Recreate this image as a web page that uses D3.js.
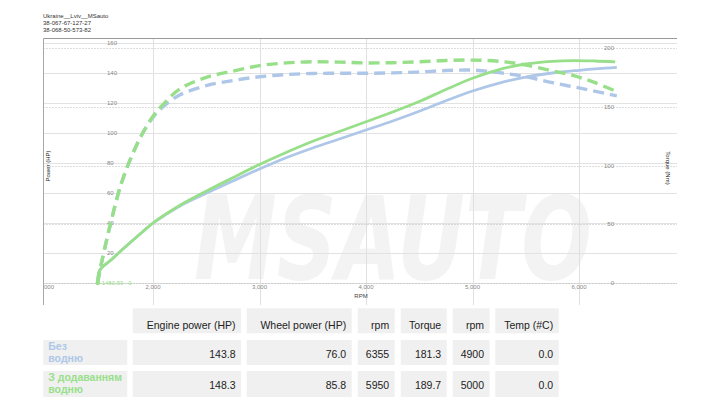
<!DOCTYPE html>
<html><head><meta charset="utf-8">
<script src="https://cdn.jsdelivr.net/npm/d3@7"></script>
<style>body{margin:0;background:#fff;} svg{display:block;font-family:"Liberation Sans",Arial,sans-serif;}</style>
</head><body>
<svg id="c" width="720" height="405"></svg>
<script>
// ---- data ----
const headerLines = ["Ukraine__Lviv__MSauto", "38-067-67-127-27", "38-068-50-573-82"];
const xTicks = [1000, 2000, 3000, 4000, 5000, 6000];
const hpTicks = [20, 40, 60, 80, 100, 120, 140, 160];
const tqTicks = [0, 50, 100, 150, 200];

const rpmBlue  = [1480.59,1500,1600,1700,1800,1900,2000,2100,2250,2500,2750,3000,3250,3500,3750,4000,4250,4500,4750,5000,5250,5500,5750,6000,6250,6355];
const hpBlue   = [0,8.5,15,21.5,27.8,34,40,44.7,51.2,59.8,68,76,83.5,90,96,102,108,114.5,121.5,128,133.3,137.3,140,141.8,143.3,143.8];
const tqBlue   = [0,10,50,84,108,127,141,150.5,160,168,172.3,175.5,177.4,178.3,178.5,178.5,178.8,179.6,180.8,181.2,179,175.5,170.5,166,161.3,159.3];

const rpmGreen = [1480.59,1500,1600,1700,1800,1900,2000,2100,2250,2500,2750,3000,3250,3500,3750,4000,4250,4500,4750,5000,5250,5500,5750,5950,6150,6340];
const hpGreen  = [0,8.5,15,21.5,27.8,34,40,45,51.7,61.2,70.2,79,87,94.5,101,107.5,114,121,129,136.5,142.3,146,147.8,148.3,148,147.4];
const tqGreen  = [0,10,50,84,108,127,142,152.5,165,175,180.3,185,187.3,188.3,188,187.3,187.5,188.3,189.4,189.7,188.7,185.5,180.5,176.5,170.5,163.4];

const startLabel = "1480.59 : 0";
const tableHeaders = ["", "Engine power (HP)", "Wheel power (HP)", "rpm", "Torque", "rpm", "Temp (#C)"];
const rowLabels = [["Без", "водню"], ["З додаванням", "водню"]];
const rowValues = [["143.8", "76.0", "6355", "181.3", "4900", "0.0"],
                   ["148.3", "85.8", "5950", "189.7", "5000", "0.0"]];
const seriesColors = ["#aec7e8", "#98df8a"];

// ---- layout ----
const svg = d3.select("#c");
const L = 43.5, R = 677, T = 38.5, B = 283, GB = 305;
const x = d3.scaleLinear().domain([1000, 6000]).range([46.5, 579]);
const yL = d3.scaleLinear().domain([0, 160]).range([B, 43]);
const yR = d3.scaleLinear().domain([0, 200]).range([B, 48]);

// header
svg.append("g").selectAll("text").data(headerLines).join("text")
  .attr("x", 43).attr("y", (d, i) => 17.5 + i * 7)
  .attr("font-size", 6).attr("fill", "#333").text(d => d);

// watermark
svg.append("text").attr("x", 194).attr("y", 279)
  .attr("font-family", "DejaVu Sans").attr("font-size", 116).attr("font-weight", "bold").attr("font-style", "italic")
  .attr("textLength", 398).attr("lengthAdjust", "spacingAndGlyphs")
  .attr("fill", "#f3f3f3").text("MSAUTO");

// grid
const g = svg.append("g");
g.selectAll(".hg").data([0, ...hpTicks]).join("line")
  .attr("x1", L).attr("x2", R).attr("y1", d => Math.round(yL(d)) + 0.5).attr("y2", d => Math.round(yL(d)) + 0.5)
  .attr("stroke", "#e2e2e2").attr("stroke-width", 1);
g.selectAll(".dg").data(tqTicks).join("line")
  .attr("x1", L).attr("x2", R).attr("y1", d => Math.round(yR(d)) + 0.5).attr("y2", d => Math.round(yR(d)) + 0.5)
  .attr("stroke", "#bbb").attr("stroke-width", 1).attr("stroke-dasharray", "1,2");
g.selectAll(".vg").data(xTicks.slice(1)).join("line")
  .attr("x1", d => Math.round(x(d)) + 0.5).attr("x2", d => Math.round(x(d)) + 0.5)
  .attr("y1", T).attr("y2", GB).attr("stroke", "#e0e0e0");
g.append("line").attr("x1", L).attr("x2", L).attr("y1", T).attr("y2", GB).attr("stroke", "#a8a8a8");
g.append("line").attr("x1", L).attr("x2", R).attr("y1", T).attr("y2", T).attr("stroke", "#999");

// tick labels
svg.append("defs").append("clipPath").attr("id", "clipX").append("rect")
  .attr("x", L).attr("y", 0).attr("width", 700).attr("height", 405);
svg.append("g").attr("clip-path", "url(#clipX)").selectAll("text").data(xTicks).join("text")
  .attr("x", d => x(d)).attr("y", 289).attr("text-anchor", "middle")
  .attr("font-size", 6).attr("fill", "#888").text(d => d3.format(",")(d));
svg.append("g").selectAll("text").data(hpTicks).join("text")
  .attr("x", 107).attr("y", d => yL(d) + 2).attr("font-size", 6).attr("fill", "#888").text(d => d);
svg.append("g").selectAll("text").data(tqTicks).join("text")
  .attr("x", 614).attr("y", d => yR(d) + 2).attr("text-anchor", "end")
  .attr("font-size", 6).attr("fill", "#888").text(d => d);

// axis titles
svg.append("text").attr("transform", "translate(50,166) rotate(-90)").attr("text-anchor", "middle")
  .attr("font-size", 6).attr("fill", "#222").text("Power (HP)");
svg.append("text").attr("transform", "translate(666,168) rotate(90)").attr("text-anchor", "middle")
  .attr("font-size", 6).attr("fill", "#222").text("Torque (Nm)");
svg.append("text").attr("x", 361).attr("y", 298).attr("text-anchor", "middle")
  .attr("font-size", 6).attr("fill", "#444").text("RPM");

// lines
const series = [
  {rpm: rpmBlue, hp: hpBlue, tq: tqBlue, color: seriesColors[0]},
  {rpm: rpmGreen, hp: hpGreen, tq: tqGreen, color: seriesColors[1]}
];
const line = d3.line().curve(d3.curveCatmullRom.alpha(0.5));
series.forEach(s => {
  const ptsHP = s.rpm.map((r, i) => [x(r), yL(s.hp[i])]);
  const ptsTQ = s.rpm.map((r, i) => [x(r), yR(s.tq[i])]);
  svg.append("path").attr("d", line(ptsTQ)).attr("fill", "none")
    .attr("stroke", s.color).attr("stroke-width", 3.4).attr("stroke-dasharray", "11,6");
  svg.append("path").attr("d", line(ptsHP)).attr("fill", "none")
    .attr("stroke", s.color).attr("stroke-width", 2.8);
});

// start marker
svg.append("circle").attr("cx", x(rpmGreen[0])).attr("cy", yL(0)).attr("r", 2.2).attr("fill", seriesColors[1]);
svg.append("text").attr("x", x(rpmGreen[0]) + 4).attr("y", yL(0) + 2).attr("font-size", 6)
  .attr("fill", seriesColors[1]).text(startLabel);

// table
const cols = [[43.3, 84], [132.7, 108.3], [246.7, 105], [357.7, 37], [400.7, 46], [452.7, 36.8], [495.3, 63.4]];
const rowsY = [[308.3, 25], [340, 25], [371, 26]];
const tg = svg.append("g");
tableHeaders.forEach((h, ci) => {
  if (ci === 0) return;
  tg.append("rect").attr("x", cols[ci][0]).attr("y", rowsY[0][0]).attr("width", cols[ci][1]).attr("height", rowsY[0][1]).attr("fill", "#f0f0f0");
  tg.append("text").attr("x", cols[ci][0] + cols[ci][1] - 5.5).attr("y", 328.5).attr("text-anchor", "end")
    .attr("font-size", 10.5).attr("fill", "#222").text(h);
});
rowValues.forEach((row, ri) => {
  const ry = rowsY[ri + 1];
  tg.append("rect").attr("x", cols[0][0]).attr("y", ry[0]).attr("width", cols[0][1]).attr("height", ry[1]).attr("fill", "#f0f0f0");
  rowLabels[ri].forEach((t, li) => {
    tg.append("text").attr("x", 48.3).attr("y", ry[0] + 9.5 + li * 12.5).attr("font-size", 10.5)
      .attr("font-weight", "bold").attr("fill", seriesColors[ri]).text(t);
  });
  row.forEach((v, vi) => {
    const c = cols[vi + 1];
    tg.append("rect").attr("x", c[0]).attr("y", ry[0]).attr("width", c[1]).attr("height", ry[1]).attr("fill", "#f0f0f0");
    tg.append("text").attr("x", c[0] + c[1] - 5.5).attr("y", ry[0] + 17.5).attr("text-anchor", "end")
      .attr("font-size", 10.5).attr("fill", "#222").text(v);
  });
});
</script>
</body></html>
